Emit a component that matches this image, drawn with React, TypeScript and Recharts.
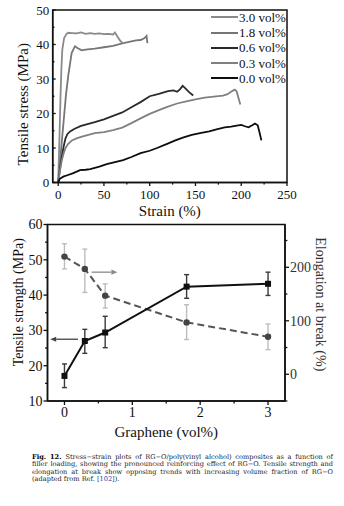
import {
  LineChart,
  ComposedChart,
  Line,
  XAxis,
  YAxis,
  Label,
  Legend,
  ErrorBar,
  ReferenceArea,
  ReferenceLine,
} from 'recharts';

const FONT = '"Liberation Serif", "Times New Roman", serif';
const CAPTION_FONT = '"DejaVu Serif", serif';
const INK = '#111';

// --- stress-strain curves (top panel)
const seriesNames = ['3.0 vol%', '1.8 vol%', '0.6 vol%', '0.3 vol%', '0.0 vol%'];
const seriesColors = ['#8a8a8a', '#767676', '#2b2b2b', '#808080', '#0d0d0d'];

const strain30 = [0, 1.3, 2.6, 3.5, 4.5, 6.5, 9, 11, 15, 20, 25, 30, 35, 40, 45, 50, 55, 60, 62, 65, 68, 70];
const stress30 = [0, 12, 25.4, 33, 38.5, 41.9, 43, 43.4, 43.3, 43.2, 43.5, 43.1, 43.3, 43.1, 43.2, 43, 43.1, 42.9, 43.5, 42.2, 41, 40.6];

const strain18 = [0, 4, 8.5, 11, 14.7, 18.3, 21, 25.7, 30, 40, 50, 60, 70, 75, 80, 85, 90, 94, 96.5, 97.5];
const stress18 = [0, 12, 25.4, 31, 37.5, 39.5, 39, 38.3, 38.5, 38.8, 39.2, 39.6, 40.3, 40.6, 40.9, 41.2, 41.3, 41.8, 42.5, 40.4];

const strain06 = [0, 2, 4, 6, 8, 10, 13, 18, 25, 30, 40, 50, 60, 70, 80, 90, 100, 110, 120, 126, 130, 133, 136, 139, 143, 147.5];
const stress06 = [0, 4, 7.5, 10.5, 12.8, 14, 14.8, 15.6, 16.4, 16.8, 17.5, 18.3, 19.3, 20.3, 21.8, 23.3, 25, 25.7, 26.5, 26.7, 26.3, 27, 28, 27.3, 26.2, 25.2];

const strain03 = [0, 2, 4, 6, 8, 11, 15, 20, 25, 30, 40, 50, 60, 70, 80, 90, 100, 110, 120, 130, 140, 150, 160, 170, 180, 185, 190, 193, 195, 197, 199];
const stress03 = [0, 3.5, 6.5, 8.5, 10, 11.2, 12.2, 12.8, 13.2, 13.6, 14.3, 14.6, 15.2, 15.9, 17.2, 18.6, 19.9, 21, 22, 22.9, 23.5, 24.1, 24.6, 24.9, 25.2, 25.6, 26.5, 26.9, 26.4, 24.5, 22.6];

const strain00 = [0, 1.5, 5.5, 10, 16.5, 23.8, 30, 35, 45, 53, 62, 71, 80, 90, 100, 108, 119, 128, 137, 146, 155, 165, 174, 182, 189, 195, 200, 204, 208, 212, 215, 218, 220, 222];
const stress00 = [0, 1, 1.7, 2.1, 2.7, 3.6, 3.7, 3.9, 4.6, 5.3, 5.9, 6.5, 7.4, 8.5, 9.2, 10, 11.2, 12.2, 13.1, 13.8, 14.3, 14.8, 15.5, 16, 16.2, 16.5, 16.7, 16.3, 16, 16.6, 17.1, 16.6, 14.5, 12.2];

const strainTicks = [0, 25, 50, 75, 100, 125, 150, 175, 200, 225, 250];
const stressTicks = [0, 5, 10, 15, 20, 25, 30, 35, 40, 45, 50];

// --- tensile strength / elongation vs graphene (bottom panel)
const graphene = [0, 0.3, 0.6, 1.8, 3];
const strength = [17.1, 27, 29.4, 42.4, 43.2];
const strengthLow = [13.8, 23.5, 25.1, 39.1, 39.9];
const strengthHigh = [20.5, 30.3, 34, 45.8, 46.5];
const elongation = [220, 197, 147, 97, 70];
const elongationLow = [197, 153, 124, 65, 46];
const elongationHigh = [244, 234, 169, 130, 94];

const grapheneTicks = [0, 0.5, 1, 1.5, 2, 2.5, 3];
const strengthTicks = [10, 15, 20, 25, 30, 35, 40, 45, 50, 55, 60];
const elongationTicks = [-50, 0, 50, 100, 150, 200, 250];

const captionLines = [
  'Stress\u2212strain plots of RG\u2212O/poly(vinyl alcohol) composites as a function of',
  'filler loading, showing the pronounced reinforcing effect of RG\u2212O. Tensile strength and',
  'elongation at break show opposing trends with increasing volume fraction of RG\u2212O',
];

const curves = [
  [strain30, stress30],
  [strain18, stress18],
  [strain06, stress06],
  [strain03, stress03],
  [strain00, stress00],
].map(([xs, ys]) => xs.map((x, i) => ({ x, y: ys[i] })));

const tableData = graphene.map((x, i) => ({
  x,
  strength: strength[i],
  strengthErr: [strength[i] - strengthLow[i], strengthHigh[i] - strength[i]],
  elong: elongation[i],
  elongErr: [elongation[i] - elongationLow[i], elongationHigh[i] - elongation[i]],
}));

const axisStyle = { stroke: INK, strokeWidth: 1.5 };

type TickOpts = {
  side: 'bottom' | 'left' | 'right';
  step: number;
  len: number;
  inward?: boolean;
  gap: number;
  fontSize: number;
  color?: string;
};

function makeTick(o: TickOpts) {
  return (props: any) => {
    const { x, y, payload } = props;
    const v = payload.value as number;
    const r = Math.abs(v / o.step - Math.round(v / o.step));
    const major = r < 1e-6;
    const l = major ? o.len : o.len * 0.6;
    const d = o.inward ? -1 : 1;
    const fill = o.color ?? INK;
    const text = major ? String(v) : '';
    if (o.side === 'bottom') {
      return (
        <g>
          <line x1={x} y1={y} x2={x} y2={y + d * l} stroke={INK} strokeWidth={1.3} />
          <text x={x} y={y + o.gap} dy="0.35em" textAnchor="middle" style={{ fontFamily: FONT }} fontSize={o.fontSize} fill={fill}>
            {text}
          </text>
        </g>
      );
    }
    const s = o.side === 'left' ? -1 : 1;
    return (
      <g>
        <line x1={x} y1={y} x2={x + s * d * l} y2={y} stroke={INK} strokeWidth={1.3} />
        <text
          x={x + s * o.gap}
          y={y}
          dy="0.35em"
          textAnchor={o.side === 'left' ? 'end' : 'start'}
          style={{ fontFamily: FONT }}
          fontSize={o.fontSize}
          fill={fill}
        >
          {text}
        </text>
      </g>
    );
  };
}

function renderLegend(props: any) {
  const items = [...(props.payload ?? [])].sort(
    (a: any, b: any) => seriesNames.indexOf(a.value) - seriesNames.indexOf(b.value),
  );
  return (
    <div style={{ fontFamily: FONT, fontSize: 13, color: INK }}>
      {items.map((item: any) => (
        <div key={item.value} style={{ display: 'flex', alignItems: 'center', height: 15.25 }}>
          <span style={{ display: 'inline-block', width: 27, height: 2, background: item.color, marginRight: 1 }} />
          <span style={{ lineHeight: '13px' }}>{item.value}</span>
        </div>
      ))}
    </div>
  );
}

function arrow(color: string) {
  return (p: any) => {
    const { x1, y1, x2, y2 } = p;
    const dir = x2 > x1 ? 1 : -1;
    const hl = 6;
    return (
      <g>
        <line x1={x1} y1={y1} x2={x2 - dir * hl} y2={y2} stroke={color} strokeWidth={1.3} />
        <polygon points={`${x2},${y2} ${x2 - dir * hl},${y2 - 2.6} ${x2 - dir * hl},${y2 + 2.6}`} fill={color} />
      </g>
    );
  };
}

const SquareDot = (p: any) => {
  const { cx, cy } = p;
  if (cx == null || cy == null) return <g />;
  return <rect x={cx - 3} y={cy - 3} width={6} height={6} fill={INK} />;
};

const CircleDot = (p: any) => {
  const { cx, cy } = p;
  if (cx == null || cy == null) return <g />;
  return <circle cx={cx} cy={cy} r={3.2} fill="#444" />;
};

const labelStyle = { fontFamily: FONT };

export default function App() {
  return (
    <div style={{ position: 'absolute', left: 0, top: 0, width: 344, height: 506, background: '#fff' }}>
      <div style={{ position: 'absolute', left: 0, top: 0 }}>
        <LineChart width={344} height={222} margin={{ top: 10, right: 57, left: 0, bottom: 9.5 }}>
          <XAxis
            type="number"
            dataKey="x"
            domain={[-6, 250]}
            allowDataOverflow
            ticks={strainTicks}
            interval={0}
            height={30}
            tickSize={0}
            tickMargin={0}
            tickLine={false}
            axisLine={axisStyle}
            tick={makeTick({ side: 'bottom', step: 50, len: 3.5, gap: 11.5, fontSize: 13 })}
          >
            <Label value="Strain (%)" position="center" dy={13.5} style={labelStyle} fontSize={15} fill={INK} />
          </XAxis>
          <YAxis
            type="number"
            domain={[0, 50]}
            allowDataOverflow
            ticks={stressTicks}
            interval={0}
            width={52.7}
            tickSize={0}
            tickMargin={0}
            tickLine={false}
            axisLine={axisStyle}
            tick={makeTick({ side: 'left', step: 10, len: 3, inward: true, gap: 3.5, fontSize: 13 })}
          >
            <Label
              value="Tensile stress (MPa)"
              position="center"
              angle={-90}
              dx={-4}
              dy={8}
              style={labelStyle}
              fontSize={15}
              fill={INK}
            />
          </YAxis>
          <ReferenceArea x1={-6} x2={250} y1={0} y2={50} fill="none" stroke={INK} strokeWidth={1.5} />
          {curves.map((data, i) => (
            <Line
              key={seriesNames[i]}
              data={data}
              dataKey="y"
              name={seriesNames[i]}
              type="linear"
              stroke={seriesColors[i]}
              strokeWidth={1.8}
              dot={false}
              activeDot={false}
              isAnimationActive={false}
            />
          ))}
          <Legend
            layout="vertical"
            align="center"
            verticalAlign="middle"
            width={80}
            content={renderLegend}
            wrapperStyle={{ left: 211, top: 9.7, width: 80 }}
          />
        </LineChart>
      </div>

      <div style={{ position: 'absolute', left: 0, top: 215 }}>
        <ComposedChart width={344} height={225} data={tableData} margin={{ top: 9.5, right: 0, left: 0, bottom: 9 }}>
          <XAxis
            type="number"
            dataKey="x"
            domain={[-0.25, 3.25]}
            allowDataOverflow
            ticks={grapheneTicks}
            interval={0}
            height={30}
            tickSize={0}
            tickMargin={0}
            tickLine={false}
            axisLine={axisStyle}
            tick={makeTick({ side: 'bottom', step: 1, len: 4, gap: 10.7, fontSize: 14 })}
          >
            <Label value="Graphene (vol%)" position="center" dy={16} style={labelStyle} fontSize={15} fill={INK} />
          </XAxis>
          <YAxis
            yAxisId="left"
            type="number"
            domain={[10, 60]}
            allowDataOverflow
            ticks={strengthTicks}
            interval={0}
            width={47.5}
            tickSize={0}
            tickMargin={0}
            tickLine={false}
            axisLine={axisStyle}
            tick={makeTick({ side: 'left', step: 10, len: 4, gap: 5, fontSize: 14 })}
          >
            <Label
              value="Tensile strength (MPa)"
              position="center"
              angle={-90}
              dx={-5.5}
              dy={-10.5}
              style={labelStyle}
              fontSize={14}
              fill={INK}
            />
          </YAxis>
          <YAxis
            yAxisId="right"
            orientation="right"
            type="number"
            domain={[-50, 280]}
            allowDataOverflow
            ticks={elongationTicks}
            interval={0}
            width={59}
            tickSize={0}
            tickMargin={0}
            tickLine={false}
            axisLine={axisStyle}
            tick={makeTick({ side: 'right', step: 100, len: 4, gap: 5, fontSize: 14, color: '#333' })}
          >
            <Label
              value="Elongation at break (%)"
              position="center"
              angle={90}
              dx={6.5}
              dy={-8.5}
              style={labelStyle}
              fontSize={14}
              fill="#333"
            />
          </YAxis>
          <ReferenceArea yAxisId="left" x1={-0.25} x2={3.25} y1={10} y2={60} fill="none" stroke={INK} strokeWidth={1.5} />
          <ReferenceLine
            yAxisId="left"
            segment={[
              { x: 0.2, y: 27.5 },
              { x: -0.21, y: 27.5 },
            ]}
            shape={arrow('#444')}
          />
          <ReferenceLine
            yAxisId="left"
            segment={[
              { x: 0.4, y: 46.5 },
              { x: 0.78, y: 46.5 },
            ]}
            shape={arrow('#8a8a8a')}
          />
          <Line
            yAxisId="right"
            dataKey="elong"
            type="linear"
            stroke="#555"
            strokeWidth={2}
            strokeDasharray="7 4"
            dot={CircleDot}
            activeDot={false}
            isAnimationActive={false}
          >
            <ErrorBar dataKey="elongErr" direction="y" width={2.5} stroke="#bdbdbd" strokeWidth={1.4} />
          </Line>
          <Line
            yAxisId="left"
            dataKey="strength"
            type="linear"
            stroke={INK}
            strokeWidth={2}
            dot={SquareDot}
            activeDot={false}
            isAnimationActive={false}
          >
            <ErrorBar dataKey="strengthErr" direction="y" width={2.5} stroke="#3a3a3a" strokeWidth={1.4} />
          </Line>
        </ComposedChart>
      </div>

      <div
        style={{
          position: 'absolute',
          left: 32,
          top: 453.5,
          width: 301,
          fontFamily: CAPTION_FONT,
          fontSize: 6.6,
          lineHeight: '7.65px',
          color: '#222',
        }}
      >
        {captionLines.map((line, i) => (
          <div key={i} style={{ textAlign: 'justify', textAlignLast: 'justify', whiteSpace: 'nowrap' }}>
            {i === 0 && <b style={{ color: '#000' }}>Fig. 12. </b>}
            {line}
          </div>
        ))}
        <div>
          (adapted from Ref. <span style={{ color: '#1f3fa8' }}>[102]</span>).
        </div>
      </div>
    </div>
  );
}
